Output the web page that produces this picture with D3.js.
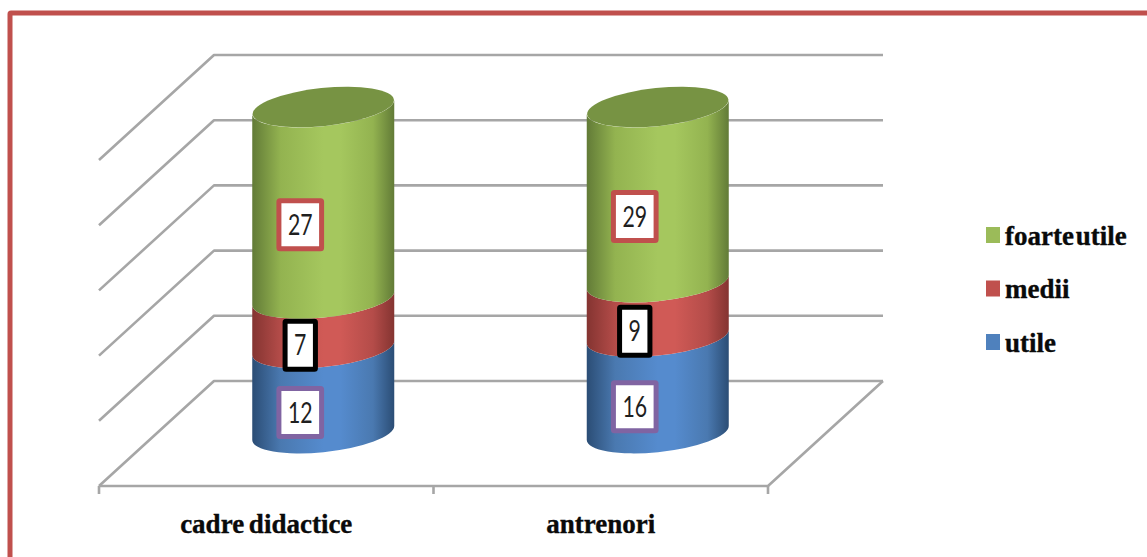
<!DOCTYPE html>
<html>
<head>
<meta charset="utf-8">
<script src="https://cdn.jsdelivr.net/npm/d3@7/dist/d3.min.js"></script>
<style>
  html, body { margin: 0; padding: 0; background: #fff; overflow: hidden; }
  svg { display: block; }
  .serif { font-family: "Liberation Serif", serif; font-weight: 700; fill: #0a0a0a; stroke: #0a0a0a; stroke-width: 0.35; }
  .value { font-family: Lato, sans-serif; fill: #1f1f1f; }
</style>
</head>
<body>
<svg id="chart" width="1147" height="557"></svg>
<script>
// Survey answers per respondent group, drawn as 100% stacked cylinders.
const categories = ["cadre didactice", "antrenori"];
const seriesNames = ["utile", "medii", "foarte utile"];
const utile = [12, 16];
const medii = [7, 9];
const foarteUtile = [27, 29];
const axisTicks = [0, 20, 40, 60, 80, 100];

const seriesColors = {
  "utile":        { swatch: "#4f81bd", mid: "#558bce", soft: "#4a79b0", dark: "#2b4d75", frame: "#8064a2" },
  "medii":        { swatch: "#c0504d", mid: "#d05a56", soft: "#b44c49", dark: "#843431", frame: "#000000" },
  "foarte utile": { swatch: "#9bbb59", mid: "#a5c75e", soft: "#93b350", dark: "#627b37", frame: "#c0504d" }
};
const topCapColor = "#779343";
const gridColor = "#a6a6a6";

const svg = d3.select("#chart");

// Plot box: back wall and the oblique depth of the floor.
const plot = { left: 99, right: 768, floorFront: 486, wallBottom: 381, wallTop: 55 };
const depth = { dx: 115, dy: plot.floorFront - plot.wallBottom };

const x = d3.scaleBand().domain(categories).range([plot.left, plot.right]);
const y = d3.scaleLinear().domain([0, 100]).range([plot.wallBottom, plot.wallTop]);

// Outer frame runs past the right and bottom page edges.
svg.append("rect")
  .attr("x", 10).attr("y", 13)
  .attr("width", 1160).attr("height", 570)
  .attr("fill", "#fff")
  .attr("stroke", "#c0504d").attr("stroke-width", 5).attr("rx", 1);

// Gradients that give the cylinder sides their round shading.
const defs = svg.append("defs");
seriesNames.forEach((name, i) => {
  const c = seriesColors[name];
  const g = defs.append("linearGradient").attr("id", "side" + i)
    .attr("x1", 0).attr("x2", 1).attr("y1", 0).attr("y2", 0);
  [[0, c.dark], [0.2, c.soft], [0.5, c.mid], [0.62, c.mid], [0.85, c.soft], [1, c.dark]]
    .forEach(([o, col]) => g.append("stop").attr("offset", o).attr("stop-color", col));
});

// Gridlines: back wall plus the run down the left wall.
const grid = svg.append("g").attr("fill", "none")
  .attr("stroke", gridColor).attr("stroke-width", 2.6).attr("stroke-linejoin", "round");
const wallLeft = plot.left + depth.dx;
const wallRight = plot.right + depth.dx;
grid.selectAll("path.grid").data(axisTicks).join("path").attr("class", "grid")
  .attr("d", t => {
    const p = d3.path();
    p.moveTo(plot.left, y(t) + depth.dy);
    p.lineTo(wallLeft, y(t));
    p.lineTo(wallRight, y(t));
    return p.toString();
  });

// Floor front edge, right edge and category ticks.
const floor = d3.path();
floor.moveTo(plot.left, plot.floorFront);
floor.lineTo(plot.right, plot.floorFront);
floor.lineTo(wallRight, plot.wallBottom);
grid.append("path").attr("d", floor.toString());
const tickXs = [plot.left, ...categories.map(c => x(c) + x.bandwidth())];
grid.selectAll("line.tick").data(tickXs).join("line").attr("class", "tick")
  .attr("x1", d => d).attr("x2", d => d)
  .attr("y1", plot.floorFront).attr("y2", plot.floorFront + 8);

// Stack each group to 100%.
const rows = categories.map((c, i) => ({
  category: c,
  "utile": utile[i], "medii": medii[i], "foarte utile": foarteUtile[i]
}));
const stacked = d3.stack().keys(seriesNames).offset(d3.stackOffsetExpand)(rows);

// Cylinder geometry: a tilted ellipse, set halfway into the floor depth.
const rx = 71, ry = 19, tilt = -6;
const sideDrop = 7;
const shiftX = depth.dx / 2 - 0.5, shiftY = depth.dy / 2 - 0.5;
const cx = c => x(c) + x.bandwidth() / 2 + shiftX;
const cy = frac => y(frac * 100) + shiftY;

function sidePath(c, y0, y1) {
  const l = cx(c) - rx, r = cx(c) + rx;
  const p = [
    `M${l},${cy(y1) + sideDrop}`,
    `L${l},${cy(y0) + sideDrop}`,
    `A${rx},${ry} ${tilt} 0 0 ${r},${cy(y0) - sideDrop}`,
    `L${r},${cy(y1) - sideDrop}`,
    `A${rx},${ry} ${tilt} 0 1 ${l},${cy(y1) + sideDrop}`,
    "Z"
  ];
  return p.join("");
}

const bars = svg.append("g");
stacked.forEach((layer, i) => {
  bars.selectAll(null).data(layer).join("path")
    .attr("d", d => sidePath(d.data.category, d[0], d[1]))
    .attr("fill", `url(#side${i})`);
});
bars.selectAll("ellipse.cap").data(categories).join("ellipse").attr("class", "cap")
  .attr("rx", rx).attr("ry", ry).attr("fill", topCapColor)
  .attr("transform", c => `translate(${cx(c)},${cy(1)}) rotate(${tilt})`);

// Value labels sit on the front-left of each cylinder face; digits are condensed.
const labelShift = { x: -23, y: 22 };
const digitSqueeze = 0.76;
const labels = svg.append("g");
stacked.forEach(layer => {
  const name = layer.key;
  layer.forEach(d => {
    const px = cx(d.data.category) + labelShift.x;
    const py = cy((d[0] + d[1]) / 2) + labelShift.y;
    const g = labels.append("g").attr("transform", `translate(${px},${py})`);
    const box = g.append("rect").attr("fill", "#fff")
      .attr("stroke", seriesColors[name].frame).attr("stroke-width", 5).attr("rx", 1);
    const text = g.append("text").attr("class", "value")
      .attr("text-anchor", "middle").attr("dy", "0.36em")
      .attr("transform", `scale(${digitSqueeze},1)`)
      .attr("font-size", 28).text(d.data[name]);
    const w = text.node().getComputedTextLength() * digitSqueeze + 18;
    box.attr("x", -w / 2).attr("y", -24).attr("width", w).attr("height", 48);
  });
});

// Category labels under the floor.
svg.append("g").selectAll("text").data(categories).join("text")
  .attr("class", "serif")
  .attr("x", c => x(c) + x.bandwidth() / 2)
  .attr("y", 533)
  .attr("text-anchor", "middle")
  .attr("font-size", 27)
  .attr("word-spacing", -2)
  .text(c => c);

// Legend, top entry first.
const legendOrder = seriesNames.slice().reverse();
const legendY = d3.scalePoint().domain(legendOrder).range([235, 342]);
const legend = svg.append("g").selectAll("g").data(legendOrder).join("g")
  .attr("transform", d => `translate(986,${legendY(d)})`);
legend.append("rect")
  .attr("x", 0).attr("y", -8).attr("width", 14).attr("height", 16)
  .attr("fill", d => seriesColors[d].swatch);
legend.append("text").attr("class", "serif")
  .attr("x", 19).attr("y", 9.5)
  .attr("font-size", 27)
  .attr("word-spacing", -5)
  .text(d => d);
</script>
</body>
</html>
